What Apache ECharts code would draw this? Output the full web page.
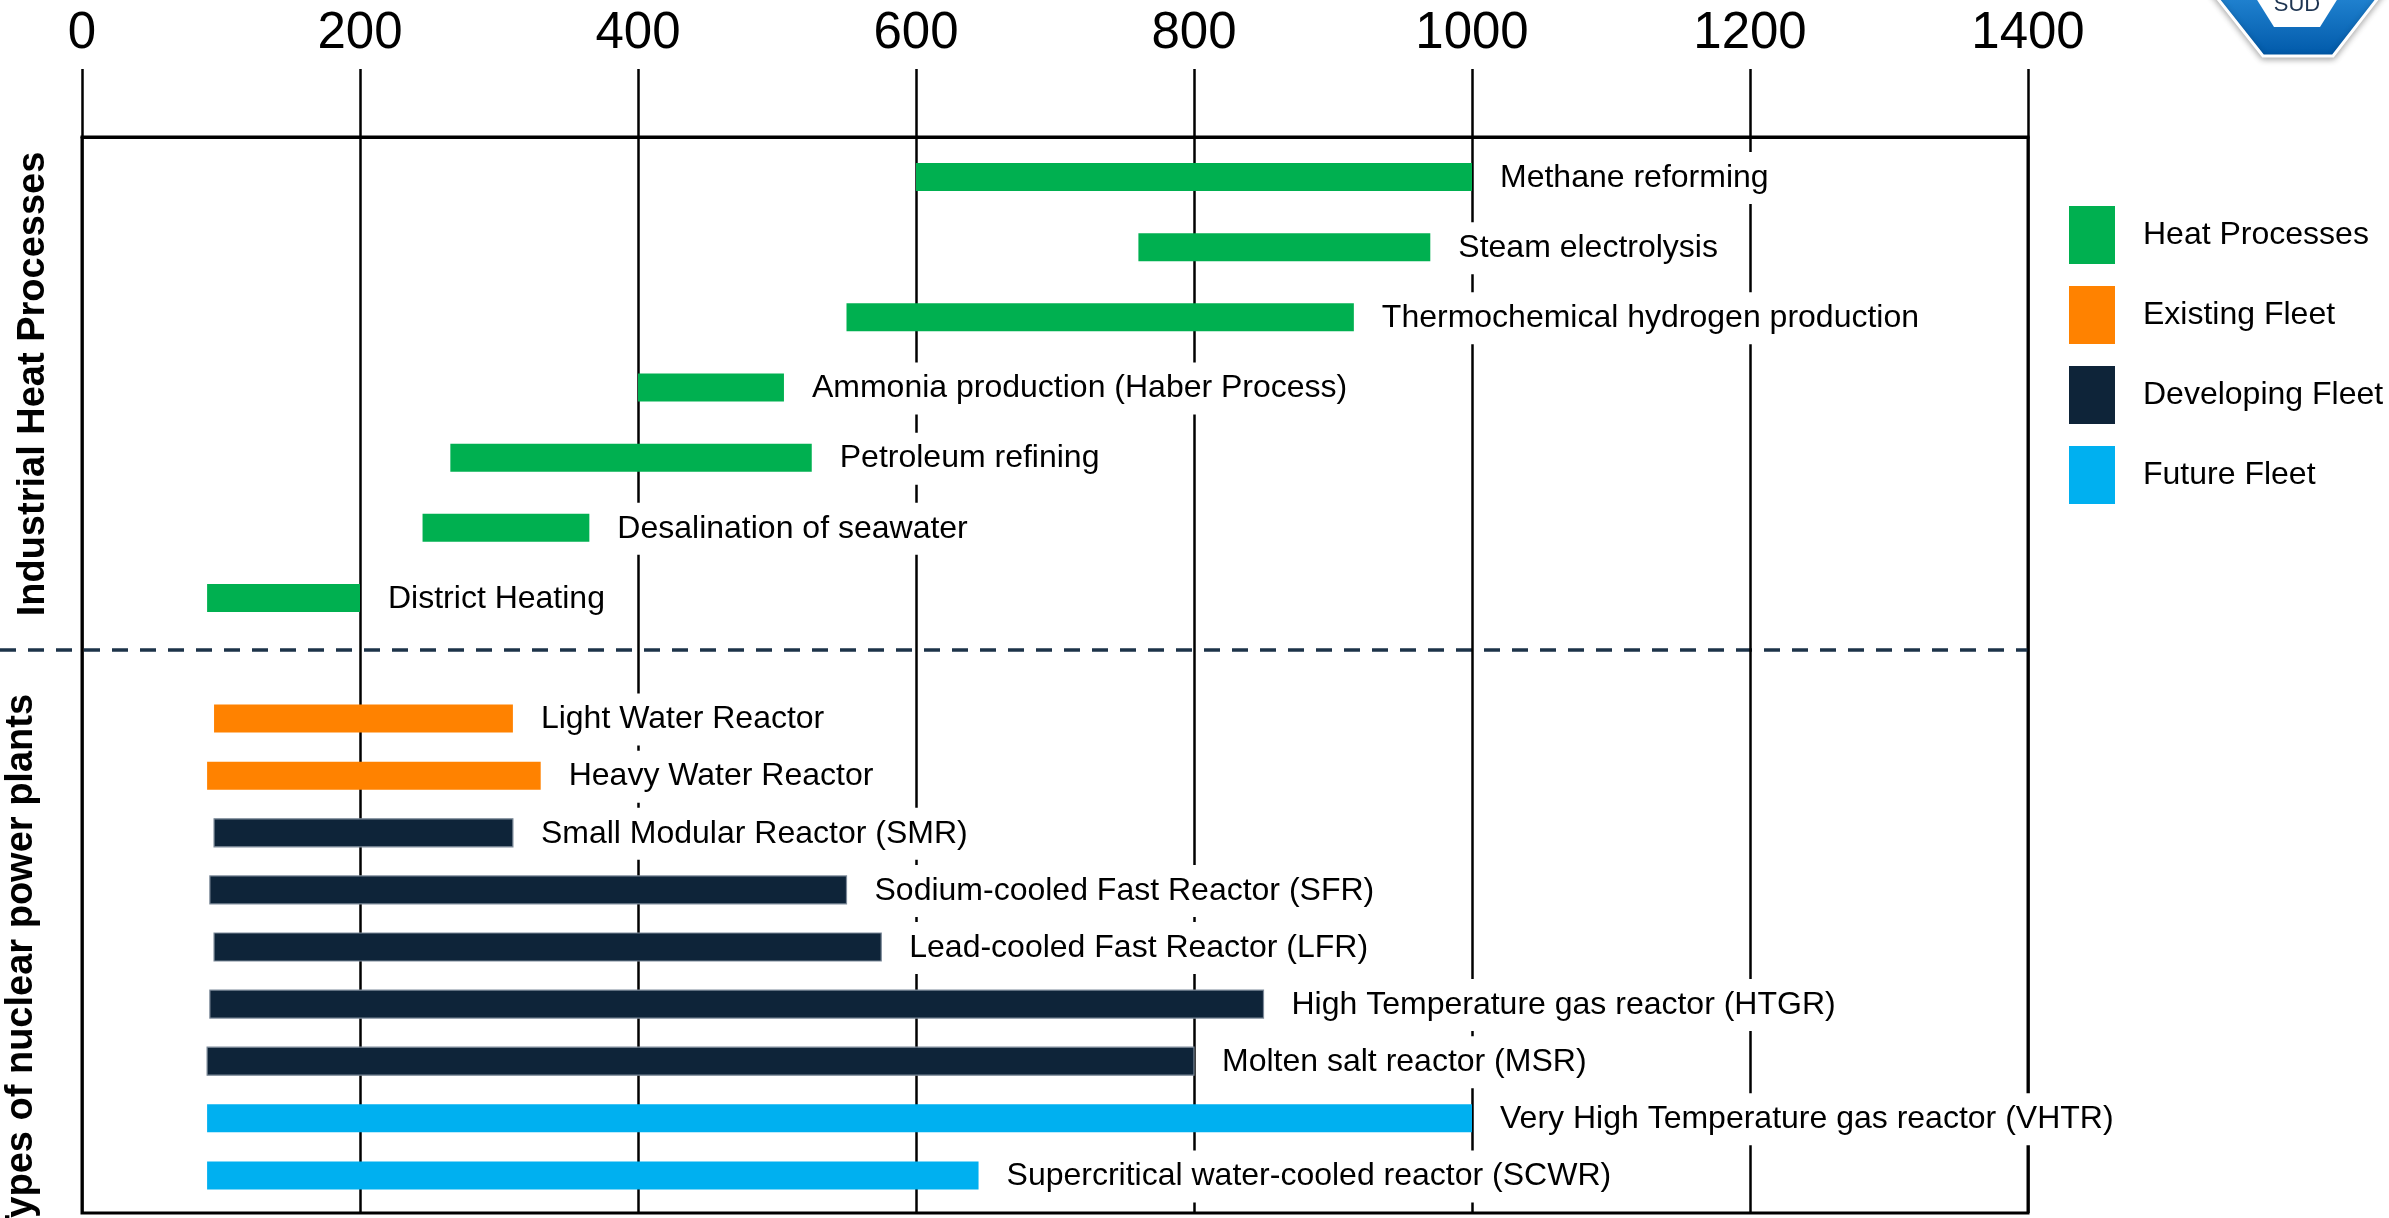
<!DOCTYPE html>
<html>
<head>
<meta charset="utf-8">
<title>Nuclear reactor temperatures vs industrial heat processes</title>
<script src="https://cdn.jsdelivr.net/npm/echarts@6/dist/echarts.min.js"></script>
<style>
  html, body { margin: 0; padding: 0; background: #fff; }
  #chart { width: 2389px; height: 1218px; }
</style>
</head>
<body>
<div id="chart"></div>
<script>
// temperature ranges (°C), top to bottom
const heatNames = [
  'Methane reforming',
  'Steam electrolysis',
  'Thermochemical hydrogen production',
  'Ammonia production (Haber Process)',
  'Petroleum refining',
  'Desalination of seawater',
  'District Heating'
];
const heatStart = [600, 760, 550, 400, 265, 245, 90];
const heatEnd = [1000, 970, 915, 505, 525, 365, 200];

const nuclearNames = [
  'Light Water Reactor',
  'Heavy Water Reactor',
  'Small Modular Reactor (SMR)',
  'Sodium-cooled Fast Reactor (SFR)',
  'Lead-cooled Fast Reactor (LFR)',
  'High Temperature gas reactor (HTGR)',
  'Molten salt reactor (MSR)',
  'Very High Temperature gas reactor (VHTR)',
  'Supercritical water-cooled reactor (SCWR)'
];
const nuclearStart = [95, 90, 95, 92, 95, 92, 90, 90, 90];
const nuclearEnd = [310, 330, 310, 550, 575, 850, 800, 1000, 645];
const nuclearFleet = ['Existing Fleet', 'Existing Fleet', 'Developing Fleet', 'Developing Fleet',
  'Developing Fleet', 'Developing Fleet', 'Developing Fleet', 'Future Fleet', 'Future Fleet'];

const legendNames = ['Heat Processes', 'Existing Fleet', 'Developing Fleet', 'Future Fleet'];
const colors = {
  'Heat Processes': '#00B050',
  'Existing Fleet': '#FF8200',
  'Developing Fleet': '#0E2439',
  'Future Fleet': '#00B0F0'
};

const FONT = '"Liberation Sans", Arial, sans-serif';
const chart = echarts.init(document.getElementById('chart'));

// bar + label (label gets a white box, so it hides the grid lines behind it)
function makeRender(names, color, stroke) {
  return function (params, api) {
    const row = api.value(0);
    const p0 = api.coord([api.value(1), row]);
    const p1 = api.coord([api.value(2), row]);
    const h = 28;
    return {
      type: 'group',
      children: [
        {
          type: 'rect',
          shape: {x: p0[0], y: p0[1] - h / 2, width: p1[0] - p0[0], height: h},
          style: {fill: color, stroke: stroke || null, lineWidth: stroke ? 1.2 : 0}
        },
        {
          type: 'text',
          style: {
            text: names[row],
            x: p1[0] + 22,
            y: p0[1] + 1,
            fill: '#000',
            fontSize: 32,
            fontFamily: FONT,
            align: 'left',
            verticalAlign: 'middle',
            lineHeight: 38,
            backgroundColor: '#fff',
            padding: [7, 6]
          }
        }
      ]
    };
  };
}

const series = [{
  name: 'Heat Processes',
  type: 'custom',
  xAxisIndex: 1,
  yAxisIndex: 1,
  itemStyle: {color: colors['Heat Processes']},
  encode: {x: [1, 2], y: 0},
  renderItem: makeRender(heatNames, colors['Heat Processes']),
  data: heatNames.map((n, i) => [i, heatStart[i], heatEnd[i]])
}];

['Existing Fleet', 'Developing Fleet', 'Future Fleet'].forEach(fleet => {
  const rows = [];
  nuclearNames.forEach((n, i) => {
    if (nuclearFleet[i] === fleet) rows.push([i, nuclearStart[i], nuclearEnd[i]]);
  });
  series.push({
    name: fleet,
    type: 'custom',
    xAxisIndex: 2,
    yAxisIndex: 2,
    itemStyle: {color: colors[fleet]},
    encode: {x: [1, 2], y: 0},
    renderItem: makeRender(nuclearNames, colors[fleet],
      fleet === 'Developing Fleet' ? '#7d8a99' : null),
    data: rows
  });
});

const hiddenX = i => ({gridIndex: i, type: 'value', min: 0, max: 1400, show: false});

const option = {
  animation: false,
  backgroundColor: '#fff',
  grid: [
    {left: 82, top: 137, width: 1946, height: 1076, show: true, borderColor: '#000', borderWidth: 3},
    {left: 82, top: 142, width: 1946, height: 491},
    {left: 82, top: 690, width: 1946, height: 514}
  ],
  xAxis: [
    {
      gridIndex: 0,
      type: 'value',
      position: 'top',
      min: 0,
      max: 1400,
      interval: 200,
      axisLine: {show: true, onZero: false, lineStyle: {color: '#000', width: 3}},
      axisTick: {show: true, length: 68, lineStyle: {color: '#000', width: 2.5}},
      axisLabel: {margin: 78, fontSize: 51, fontFamily: FONT, color: '#000', formatter: v => String(v)},
      splitLine: {show: true, lineStyle: {color: '#000', width: 2.5}}
    },
    hiddenX(1),
    hiddenX(2)
  ],
  yAxis: [
    {gridIndex: 0, type: 'value', min: 0, max: 1, show: false},
    {gridIndex: 1, type: 'category', inverse: true, data: heatNames, show: false},
    {gridIndex: 2, type: 'category', inverse: true, data: nuclearNames, show: false}
  ],
  legend: {
    data: legendNames,
    orient: 'vertical',
    left: 2069,
    top: 206,
    padding: 0,
    icon: 'rect',
    itemWidth: 46,
    itemHeight: 58,
    itemGap: 22,
    textStyle: {fontSize: 32, fontFamily: FONT, color: '#000', padding: [0, 0, 0, 23]}
  },
  graphic: [
    {
      type: 'line',
      shape: {x1: 0, y1: 650, x2: 2028, y2: 650},
      style: {stroke: '#1d3349', lineWidth: 3.5, lineDash: [16, 12]}
    },
    {
      type: 'text',
      x: 34, y: 384, rotation: Math.PI / 2,
      style: {text: 'Industrial Heat Processes', fontSize: 38, fontWeight: 'bold', fontFamily: FONT,
        fill: '#000', align: 'center', verticalAlign: 'middle'}
    },
    {
      type: 'text',
      x: 22, y: 966, rotation: Math.PI / 2,
      style: {text: 'Types of nuclear power plants', fontSize: 38, fontWeight: 'bold', fontFamily: FONT,
        fill: '#000', align: 'center', verticalAlign: 'middle'}
    },
    // TÜV SÜD badge, cut by the top edge
    {
      type: 'polygon',
      shape: {points: [[2203, -20], [2263, 56], [2333, 56], [2392, -20]]},
      style: {
        fill: new echarts.graphic.LinearGradient(0, 0, 0, 1, [
          {offset: 0, color: '#2a8fdc'}, {offset: 1, color: '#0058a8'}
        ]),
        stroke: '#fff', lineWidth: 3,
        shadowBlur: 6, shadowColor: 'rgba(0,0,0,0.3)', shadowOffsetY: 2
      }
    },
    {
      type: 'polygon',
      shape: {points: [[2254, -5], [2274, 27], [2320, 27], [2340, -5]]},
      style: {fill: '#fff'}
    },
    {
      type: 'text',
      x: 2297, y: 5,
      style: {text: 'SÜD', fontSize: 22, fontFamily: FONT, fill: '#1e3552', align: 'center', verticalAlign: 'middle'}
    }
  ],
  series: series
};

chart.setOption(option);
</script>
</body>
</html>
